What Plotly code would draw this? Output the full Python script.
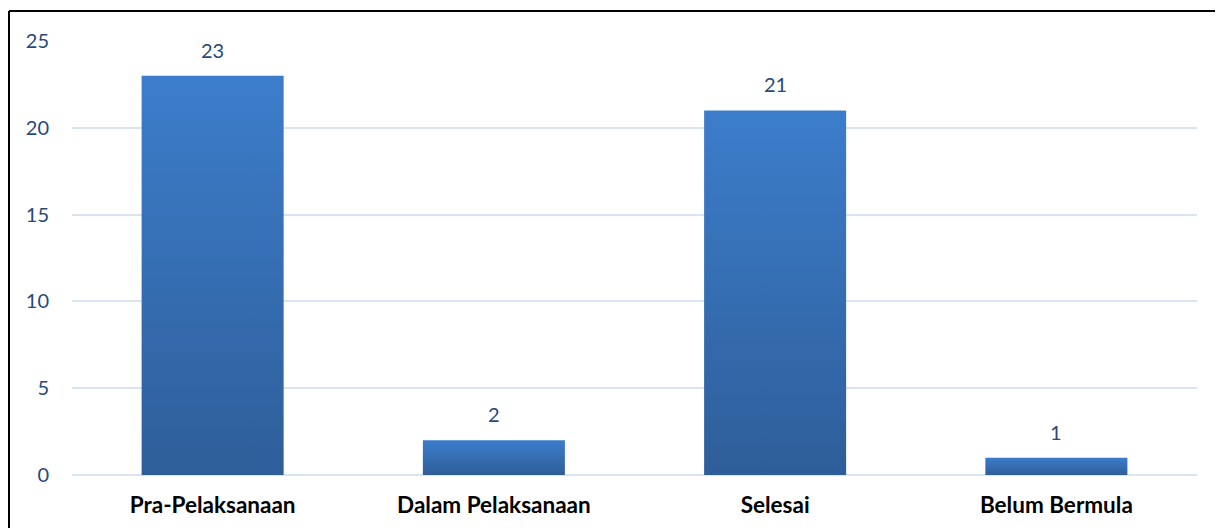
import plotly.graph_objects as go

categories = ["Pra-Pelaksanaan", "Dalam Pelaksanaan", "Selesai", "Belum Bermula"]
values = [23, 2, 21, 1]
y_ticks = [0, 5, 10, 15, 20, 25]

W, H = 1223, 528
ML, MR, MT, MB = 64, 34, 33, 61
bar_half = 0.2525

fig = go.Figure()
for i, (cat, v) in enumerate(zip(categories, values)):
    x0, x1 = i - bar_half, i + bar_half
    fig.add_trace(go.Scatter(
        x=[x0, x1, x1, x0, x0], y=[0, 0, v, v, 0],
        mode="lines", line=dict(width=0), fill="toself",
        fillgradient=dict(type="vertical",
                          colorscale=[[0, "#2e5e99"], [1, "#3c7dcb"]]),
        name=cat, hoverinfo="skip", showlegend=False,
    ))
    fig.add_annotation(x=i, y=v, text=str(v), showarrow=False,
                       yanchor="bottom", yshift=12,
                       font=dict(family="Lato", size=20, color="#264a7a"))

pw = W - ML - MR
ph = H - MT - MB
bx = (1 - ML) / pw
by = (H - MB - 3) / ph
fig.add_shape(type="line", xref="paper", yref="paper",
              x0=bx, x1=bx, y0=by, y1=-MB / ph,
              line=dict(color="black", width=2), layer="above")
fig.add_shape(type="line", xref="paper", yref="paper",
              x0=bx, x1=(W - ML) / pw, y0=by, y1=by,
              line=dict(color="black", width=2), layer="above")

fig.update_layout(
    width=W, height=H,
    margin=dict(l=ML, r=MR, t=MT, b=MB),
    paper_bgcolor="white", plot_bgcolor="white",
    xaxis=dict(range=[-0.5, 3.5], tickvals=list(range(len(categories))),
               ticktext=[f"<b>{c}</b>" for c in categories],
               showgrid=False, zeroline=False, showline=False, ticks="",
               ticklabelstandoff=14,
               tickfont=dict(family="Lato", size=22.5, color="black")),
    yaxis=dict(range=[0, 25], tickvals=y_ticks, showgrid=True,
               gridcolor="#d9e4f2", gridwidth=2, zeroline=True,
               zerolinecolor="#d9e4f2", zerolinewidth=2, ticks="",
               ticklabelstandoff=22,
               tickfont=dict(family="Lato", size=20, color="#264a7a")),
    showlegend=False,
)

fig.write_html("out.html")
